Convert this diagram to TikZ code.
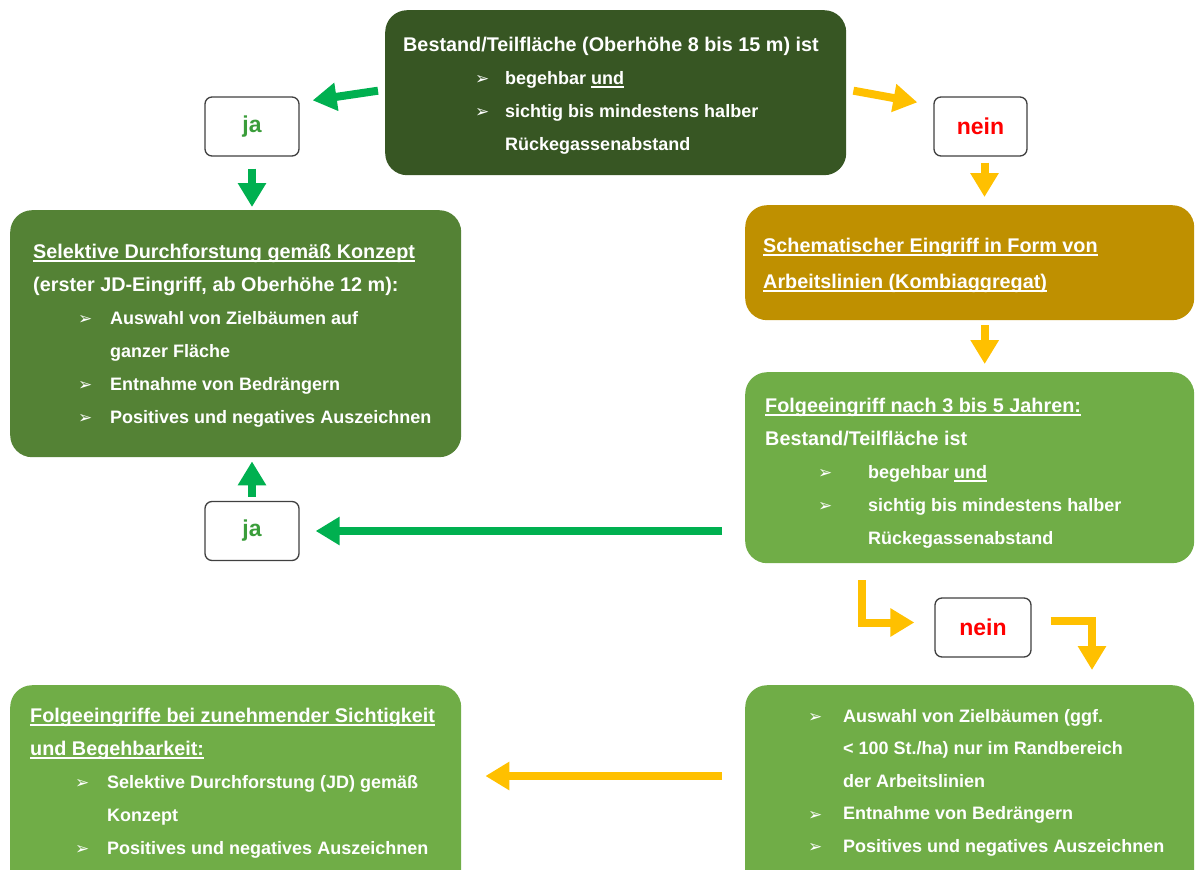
\documentclass[tikz,border=0pt]{standalone}
\usepackage{fontspec}
\setmainfont{Liberation Sans}
\newfontfamily\symfont{DejaVu Sans}
\usepackage{xcolor}
\usetikzlibrary{arrows.meta,positioning,calc}

\definecolor{stdark}{HTML}{375623}
\definecolor{stmid}{HTML}{548235}
\definecolor{stlight}{HTML}{70AD47}
\definecolor{stgold}{HTML}{BF9000}
\definecolor{argreen}{HTML}{00B050}
\definecolor{aryellow}{HTML}{FFC000}
\definecolor{jagreen}{HTML}{3A9D3A}

\newlength{\ulnwd}
\newcommand{\uln}[1]{\settowidth{\ulnwd}{#1}\rlap{\rule[-3.5pt]{\ulnwd}{1.4pt}}#1}
\newcommand{\bul}[1]{\makebox[#1][l]{\raisebox{-0.5pt}{\symfont\fontsize{17}{17}\selectfont ➢}}}
\newcommand{\topln}{\rule{0pt}{20pt}}
\newcommand{\hd}{\fontsize{19.8}{33}\selectfont}

\begin{document}
\begin{tikzpicture}[
    x=1pt, y=-1pt,
    stage/.style={rectangle, rounded corners=22pt, inner sep=0pt, anchor=north west},
    answer/.style={rectangle, draw=black!75, line width=1.3pt, fill=white, rounded corners=7pt, minimum width=94pt, minimum height=59pt, font=\bfseries\fontsize{23}{23}\selectfont},
    txt/.style={text=white, align=left, inner sep=0pt, anchor=north west, font=\bfseries\fontsize{18}{33}\selectfont},
    garrow/.style={draw=argreen, line width=8pt, -{Triangle[width=27pt,length=24pt]}},
    yarrow/.style={draw=aryellow, line width=8pt, -{Triangle[width=27pt,length=24pt]}}
]
    \useasboundingbox (0,0) rectangle (1195,870);
    \clip (0,0) rectangle (1195,870);

    % Boxes
    \node[stage, fill=stdark, minimum width=461pt, minimum height=165pt] (check) at (385,10) {};
    \node[stage, fill=stmid, minimum width=451pt, minimum height=247pt] (selektiv) at (10,210) {};
    \node[stage, fill=stgold, minimum width=449pt, minimum height=115pt] (schema) at (745,205) {};
    \node[stage, fill=stlight, minimum width=449pt, minimum height=191pt] (folge) at (745,372) {};
    \node[stage, fill=stlight, minimum width=449pt, minimum height=210pt] (auswahl) at (745,685) {};
    \node[stage, fill=stlight, minimum width=451pt, minimum height=210pt] (spaeter) at (10,685) {};

    % Answers
    \node[answer, text=jagreen] (ja1) at (252,126.5) {ja};
    \node[answer, text=jagreen] (ja2) at (252,531) {ja};
    \node[answer, text=red, minimum width=93pt] (nein1) at (980.5,126.5) {nein};
    \node[answer, text=red, minimum width=96pt] (nein2) at (983,627.5) {nein};

    % Texts (first baseline 20pt below the node top)
    \node[txt] (checkText) at ($(check.north west)+(18,21)$) {%
        \topln{\hd Bestand/Teilfläche (Oberhöhe 8 bis 15 m) ist}\\
        \hspace*{72pt}\bul{30pt}begehbar \uln{und}\\
        \hspace*{72pt}\bul{30pt}sichtig bis mindestens halber\\
        \hspace*{102pt}Rückegassenabstand};
    \node[txt] (selektivText) at ($(selektiv.north west)+(23,28)$) {%
        \topln{\hd\uln{Selektive Durchforstung gemäß Konzept}}\\
        {\hd (erster JD-Eingriff, ab Oberhöhe 12 m):}\\
        \hspace*{45pt}\bul{32pt}Auswahl von Zielbäumen auf\\
        \hspace*{77pt}ganzer Fläche\\
        \hspace*{45pt}\bul{32pt}Entnahme von Bedrängern\\
        \hspace*{45pt}\bul{32pt}Positives und negatives Auszeichnen};
    \node[txt, font=\bfseries\fontsize{19.8}{36}\selectfont] (schemaText) at ($(schema.north west)+(18,27)$) {%
        \topln\uln{Schematischer Eingriff in Form von}\\
        \uln{Arbeitslinien (Kombiaggregat)}};
    \node[txt] (folgeText) at ($(folge.north west)+(20,20)$) {%
        \topln{\hd\uln{Folgeeingriff nach 3 bis 5 Jahren:}}\\
        {\hd Bestand/Teilfläche ist}\\
        \hspace*{53pt}\bul{50pt}begehbar \uln{und}\\
        \hspace*{53pt}\bul{50pt}sichtig bis mindestens halber\\
        \hspace*{103pt}Rückegassenabstand};
    \node[txt, font=\bfseries\fontsize{18}{32.5}\selectfont] (auswahlText) at ($(auswahl.north west)+(63,17)$) {%
        \topln\bul{35pt}Auswahl von Zielbäumen (ggf.\\
        \hspace*{35pt}< 100 St./ha) nur im Randbereich\\
        \hspace*{35pt}der Arbeitslinien\\
        \bul{35pt}Entnahme von Bedrängern\\
        \bul{35pt}Positives und negatives Auszeichnen};
    \node[txt] (spaeterText) at ($(spaeter.north west)+(20,17)$) {%
        \topln{\hd\uln{Folgeeingriffe bei zunehmender Sichtigkeit}}\\
        {\hd\uln{und Begehbarkeit:}}\\
        \hspace*{45pt}\bul{32pt}Selektive Durchforstung (JD) gemäß\\
        \hspace*{77pt}Konzept\\
        \hspace*{45pt}\bul{32pt}Positives und negatives Auszeichnen};

    % Arrows - ja
    \draw[garrow] ($(check.west)+(-7,-2)$) -- ($(ja1.north east)+(13,4)$);
    \draw[garrow] ([yshift=-12pt]ja1.south) -- ([yshift=3pt]ja1.south |- selektiv.north);
    \draw[garrow] ([xshift=-23pt]ja2.east -| folge.west) -- ([xshift=16pt]ja2.east);
    \draw[garrow] ([yshift=4pt]ja2.north) -- ([yshift=-4pt]ja2.north |- selektiv.south);

    % Arrows - nein
    \draw[yarrow] ($(check.east)+(7,-2)$) -- ($(nein1.north west)+(-16,6)$);
    \draw[yarrow] ([xshift=4pt,yshift=-6pt]nein1.south) -- ([xshift=4pt,yshift=8pt]nein1.south |- schema.north);
    \draw[yarrow] ([xshift=15pt,yshift=-5pt]schema.south) -- ([xshift=15pt,yshift=8pt]schema.south |- folge.north);
    \draw[yarrow] ($(folge.south west)+(117,17)$) |- ($(nein2.west)+(-20,-5)$);
    \draw[yarrow] ($(nein2.east)+(19,-7)$) -| ($(auswahl.north west)+(347,-15)$);
    \draw[yarrow] ($(auswahl.north west)+(-23,91)$) -- ($(spaeter.north east)+(24,91)$);
\end{tikzpicture}
\end{document}
